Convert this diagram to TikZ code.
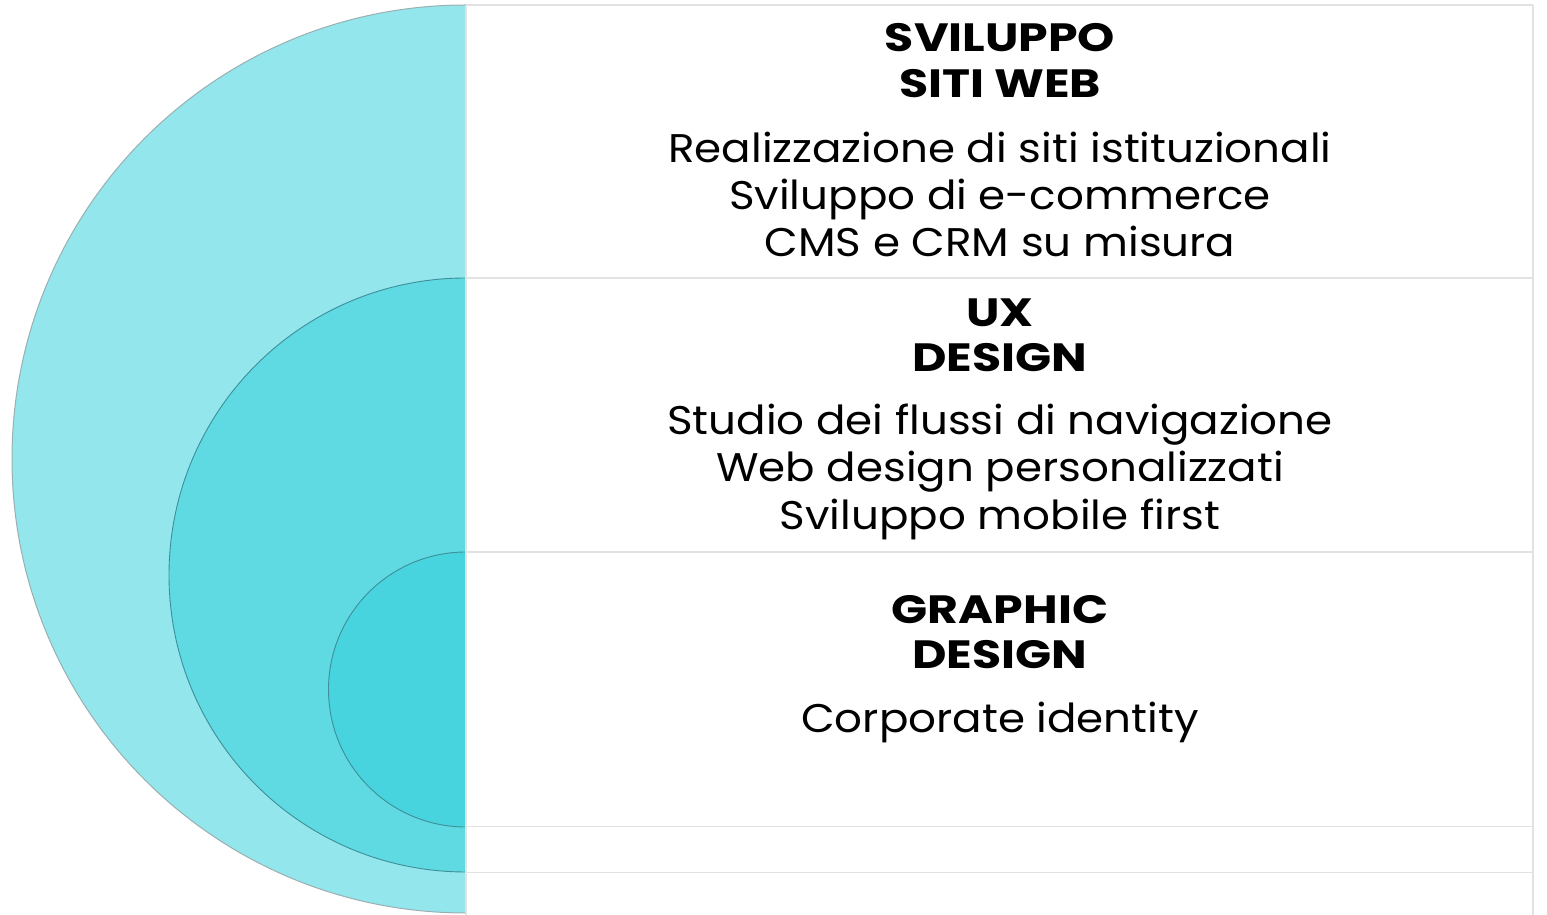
\documentclass[tikz,border=0pt]{standalone}
\usepackage{fontspec}
\setmainfont{Poppins}
\newfontfamily\ttlfont[FakeStretch=1.2]{Poppins}
\newfontfamily\bdyfont[FakeStretch=1.09]{Poppins}
\definecolor{cbig}{HTML}{92E6EC}
\definecolor{cmid}{HTML}{5FDAE3}
\definecolor{csmall}{HTML}{48D4DE}
\definecolor{rule}{HTML}{E2E2E2}
\definecolor{arcA}{HTML}{9AAFB2}
\definecolor{arcB}{HTML}{3E8F97}
\tikzset{
  ttl/.style={anchor=base, font=\ttlfont\fontsize{39.5}{39.5}\selectfont\bfseries, inner sep=0pt},
  bdy/.style={anchor=base, font=\bdyfont\fontsize{40}{40}\selectfont, inner sep=0pt},
  sep/.style={draw=rule, line width=1.5pt},
}
\begin{document}
\begin{tikzpicture}[x=1pt,y=1pt]
\useasboundingbox (0,0) rectangle (1547,915);
\clip (0,0) rectangle (1547,915);
% half discs
\fill[cbig] (466,910) arc[start angle=90, end angle=270, radius=454] -- cycle;
\draw[arcA, line width=1pt] (466,910) arc[start angle=90, end angle=270, radius=454];
\fill[cmid] (466,637) arc[start angle=90, end angle=270, radius=297] -- cycle;
\draw[arcB, line width=0.9pt] (466,637) arc[start angle=90, end angle=270, radius=297];
\fill[csmall] (466,363) arc[start angle=90, end angle=270, radius=137.5] -- cycle;
\draw[arcB, line width=0.9pt] (466,363) arc[start angle=90, end angle=270, radius=137.5];
% grid lines
\coordinate (tl) at (466,910);
\coordinate (tr) at (1533,910);
\coordinate (bl) at (466,0);
\coordinate (br) at (1533,0);
\coordinate (l1) at (466,637);  \coordinate (r1) at (1533,637);
\coordinate (l2) at (466,363);  \coordinate (r2) at (1533,363);
\coordinate (l3) at (466,88.3); \coordinate (r3) at (1533,88.3);
\coordinate (l4) at (466,42.3); \coordinate (r4) at (1533,42.3);
\draw[sep] (tl) -- (tr);
\draw[sep] (l1) -- (r1);
\draw[sep] (l2) -- (r2);
\draw[sep] (l3) -- (r3);
\draw[sep] (l4) -- (r4);
\draw[sep] (tr) -- (br);
\draw[sep] (tl) -- (bl);
% section 1
\node[ttl] (t1a) at (1000,863.3) {SVILUPPO};
\node[ttl] (t1b) at (1000,817) {SITI WEB};
\node[bdy] (b1a) at (1000,752.3) {Realizzazione di siti istituzionali};
\node[bdy] (b1b) at (1000,705.5) {Sviluppo di e-commerce};
\node[bdy] (b1c) at (1000,658.3) {CMS e CRM su misura};
% section 2
\node[ttl] (t2a) at (1000,588.3) {UX};
\node[ttl] (t2b) at (1000,543.3) {DESIGN};
\node[bdy] (b2a) at (1000,480) {Studio dei flussi di navigazione};
\node[bdy] (b2b) at (1000,433.3) {Web design personalizzati};
\node[bdy] (b2c) at (1000,385) {Sviluppo mobile first};
% section 3
\node[ttl] (t3a) at (1000,291) {GRAPHIC};
\node[ttl] (t3b) at (1000,246) {DESIGN};
\node[bdy] (b3a) at (1000,182) {Corporate identity};
\end{tikzpicture}
\end{document}
